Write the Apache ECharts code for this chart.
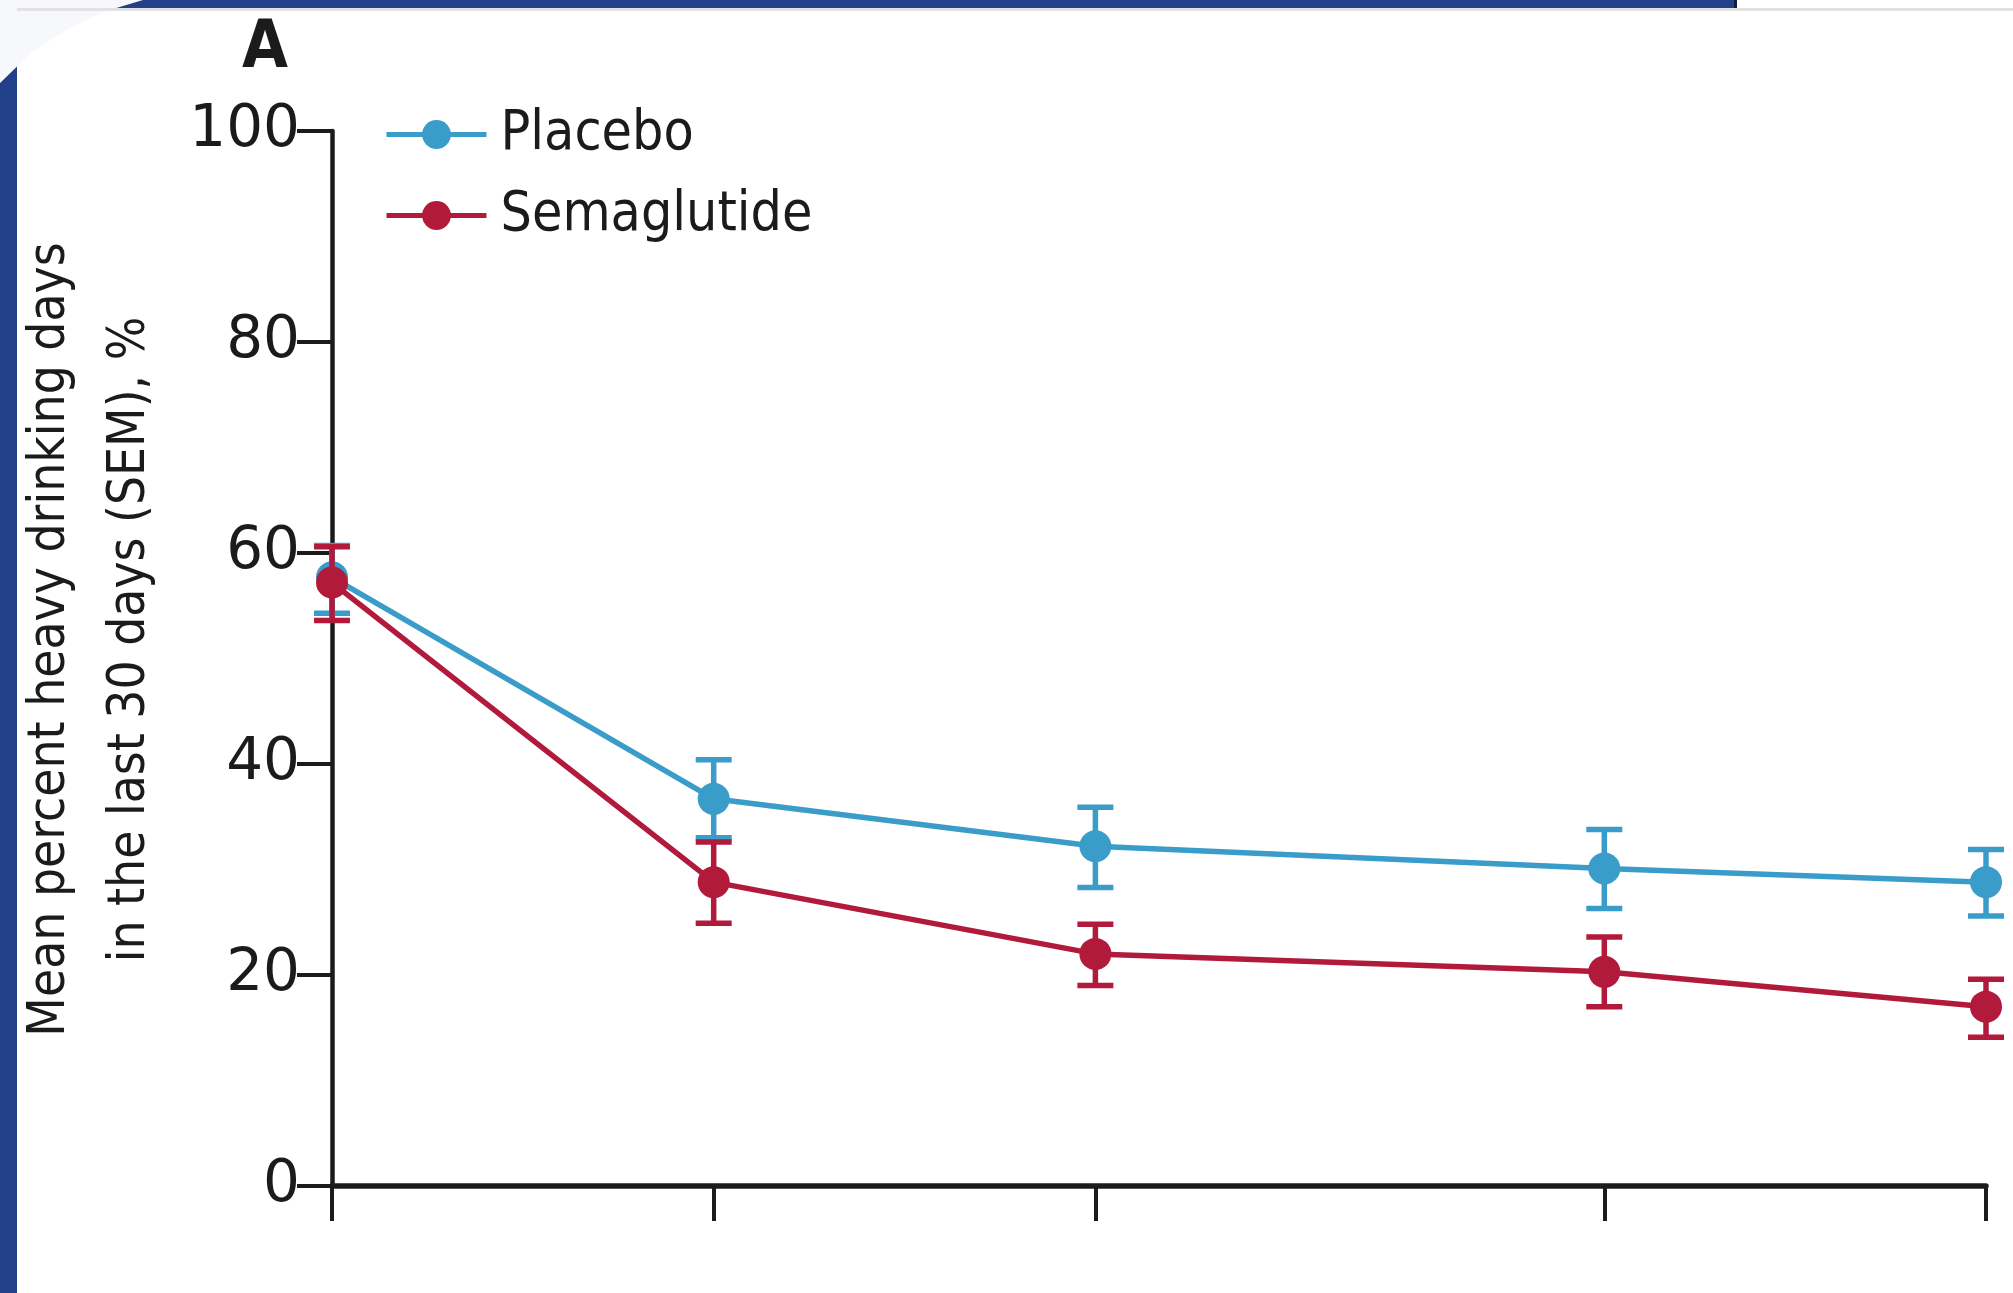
<!DOCTYPE html>
<html>
<head>
<meta charset="utf-8">
<title>Heavy drinking days</title>
<script src="https://cdn.jsdelivr.net/npm/echarts@6/dist/echarts.min.js"></script>
<style>
  html, body { margin: 0; padding: 0; background: #ffffff; }
  #chart { width: 2013px; height: 1293px; }
</style>
</head>
<body>
<div id="chart"></div>
<script>
// Assessment points (weeks) used for the x positions and ticks
const visitWeeks = [0, 3, 6, 10, 13];

// Mean % heavy drinking days with SEM bounds
const placeboMean  = [57.7, 36.7, 32.2, 30.1, 28.8];
const placeboLower = [54.3, 33.0, 28.3, 26.3, 25.6];
const placeboUpper = [60.7, 40.4, 35.9, 33.8, 31.9];

const semaMean  = [57.2, 28.8, 22.0, 20.3, 17.0];
const semaLower = [53.6, 24.9, 19.0, 17.0, 14.1];
const semaUpper = [60.6, 32.6, 24.8, 23.6, 19.6];

const seriesNames = ['Placebo', 'Semaglutide'];

const BLUE = '#3a9cc8';
const RED = '#b21a3c';
const INK = '#1b1b1b';
const FONT = "'DejaVu Sans Condensed', 'Liberation Sans Narrow', 'DejaVu Sans', sans-serif";
const NUM_FONT = "'DejaVu Sans', sans-serif";

const chart = echarts.init(document.getElementById('chart'), null, { renderer: 'canvas' });

function points(means) {
  return visitWeeks.map((w, i) => [w, means[i]]);
}
function bars(lower, upper) {
  return visitWeeks.map((w, i) => [w, lower[i], upper[i]]);
}
function errorBarRenderer(color) {
  return function (params, api) {
    const x = api.value(0);
    const top = api.coord([x, api.value(2)]);
    const bot = api.coord([x, api.value(1)]);
    const half = 18;
    const style = { stroke: color, lineWidth: 5.5 };
    return {
      type: 'group',
      children: [
        { type: 'line', shape: { x1: top[0], y1: top[1], x2: bot[0], y2: bot[1] }, style: style },
        { type: 'line', shape: { x1: top[0] - half, y1: top[1], x2: top[0] + half, y2: top[1] }, style: style },
        { type: 'line', shape: { x1: bot[0] - half, y1: bot[1], x2: bot[0] + half, y2: bot[1] }, style: style }
      ]
    };
  };
}

const option = {
  backgroundColor: '#ffffff',
  animation: false,
  graphic: [
    // slide frame around the figure
    { type: 'rect', left: 0, top: 0, shape: { width: 1736, height: 8 }, style: { fill: '#22408a' }, z: 0 },
    { type: 'rect', left: 1734, top: 0, shape: { width: 3, height: 8 }, style: { fill: '#101c3c' }, z: 0 },
    { type: 'rect', left: 0, top: 0, shape: { width: 17, height: 1293 }, style: { fill: '#22408a' }, z: 0 },
    { type: 'polygon', shape: { points: [[0, 0], [143, 0], [103, 12], [66, 30], [31, 53], [0, 83]] }, style: { fill: '#f7f8fb' }, z: 1 },
    { type: 'rect', left: 17, top: 8, shape: { width: 1996, height: 3 }, style: { fill: '#e2e2e4' }, z: 1 }
  ],
  title: {
    text: 'A',
    left: 237,
    top: 12,
    textStyle: { fontFamily: FONT, fontSize: 66, fontWeight: 'bold', color: INK }
  },
  legend: {
    data: seriesNames,
    orient: 'vertical',
    left: 379,
    top: 102,
    itemWidth: 100,
    itemHeight: 36,
    itemGap: 26,
    lineStyle: { width: 5 },
    textStyle: { fontFamily: FONT, fontSize: 55, color: INK, lineHeight: 36, padding: [0, 0, 0, 9] }
  },
  grid: { left: 332, right: 27, top: 131, bottom: 107, outerBoundsMode: 'none', containLabel: false },
  xAxis: {
    type: 'value',
    min: 0,
    max: 13,
    axisLine: { show: true, onZero: false, lineStyle: { color: INK, width: 5.5 } },
    axisTick: { show: true, customValues: visitWeeks, length: 35, lineStyle: { color: INK, width: 4 } },
    axisLabel: { show: false },
    splitLine: { show: false }
  },
  yAxis: {
    type: 'value',
    min: 0,
    max: 100,
    interval: 20,
    name: 'Mean percent heavy drinking days\nin the last 30 days (SEM), %',
    nameLocation: 'middle',
    nameRotate: 90,
    nameGap: 161,
    nameTextStyle: { fontFamily: FONT, fontSize: 51, color: INK, lineHeight: 80, padding: [0, 0, 0, 38] },
    axisLine: { show: true, lineStyle: { color: INK, width: 4.5 } },
    axisTick: { show: true, length: 35, lineStyle: { color: INK, width: 4 } },
    axisLabel: { margin: 32, fontFamily: NUM_FONT, fontSize: 58, color: INK },
    splitLine: { show: false }
  },
  series: [
    {
      name: 'Placebo SEM',
      type: 'custom',
      renderItem: errorBarRenderer(BLUE),
      encode: { x: 0, y: [1, 2] },
      data: bars(placeboLower, placeboUpper),
      z: 2
    },
    {
      name: seriesNames[0],
      type: 'line',
      data: points(placeboMean),
      symbol: 'circle',
      symbolSize: 32,
      color: BLUE,
      lineStyle: { color: BLUE, width: 5.5 },
      itemStyle: { color: BLUE },
      z: 3
    },
    {
      name: 'Semaglutide SEM',
      type: 'custom',
      renderItem: errorBarRenderer(RED),
      encode: { x: 0, y: [1, 2] },
      data: bars(semaLower, semaUpper),
      z: 4
    },
    {
      name: seriesNames[1],
      type: 'line',
      data: points(semaMean),
      symbol: 'circle',
      symbolSize: 32,
      color: RED,
      lineStyle: { color: RED, width: 5.5 },
      itemStyle: { color: RED },
      z: 5
    }
  ]
};

chart.setOption(option);
</script>
</body>
</html>
